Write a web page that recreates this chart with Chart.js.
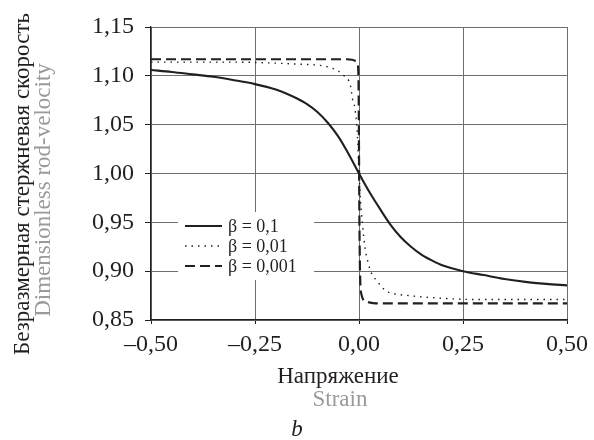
<!DOCTYPE html>
<html>
<head>
<meta charset="utf-8">
<script src="https://cdn.jsdelivr.net/npm/chart.js@4/dist/chart.umd.min.js"></script>
<style>
  html, body { margin: 0; padding: 0; background: #fff; }
  #wrap { width: 594px; height: 440px; }
</style>
</head>
<body>
<div id="wrap"><canvas id="grafico" width="594" height="440"></canvas></div>
<script>
// β = 0,1
const strainA = [-0.5, -0.45, -0.4, -0.35, -0.3, -0.25, -0.2, -0.175, -0.15, -0.125, -0.1, -0.075, -0.05, -0.025, 0,
                 0.025, 0.05, 0.075, 0.1, 0.125, 0.15, 0.175, 0.2, 0.25, 0.3, 0.35, 0.4, 0.45, 0.5];
const velA = [1.106, 1.104, 1.1015, 1.099, 1.0955, 1.0915, 1.086, 1.082, 1.077, 1.071, 1.063, 1.052, 1.038, 1.020, 1.0,
              0.981, 0.964, 0.948, 0.935, 0.925, 0.917, 0.911, 0.906, 0.900, 0.896, 0.892, 0.889, 0.887, 0.8855];

// β = 0,01
const strainB = [-0.5, -0.3, -0.2, -0.15, -0.1, -0.084, -0.06, -0.036, -0.02, -0.016, -0.01, -0.004, 0,
                 0.004, 0.008, 0.014, 0.02, 0.028, 0.043, 0.064, 0.084, 0.12, 0.173, 0.28, 0.5];
const velB = [1.114, 1.114, 1.113, 1.112, 1.111, 1.110, 1.107, 1.100, 1.089, 1.077, 1.067, 1.04, 1.0,
              0.97, 0.95, 0.925, 0.912, 0.900, 0.890, 0.880, 0.877, 0.875, 0.873, 0.871, 0.871];

// β = 0,001
const strainC = [-0.5, -0.1, -0.03, -0.016, -0.008, -0.003, -0.001, 0.001, 0.003, 0.006, 0.01, 0.016, 0.024, 0.04, 0.1, 0.5];
const velC = [1.117, 1.117, 1.117, 1.1165, 1.115, 1.111, 1.09, 0.95, 0.89, 0.876, 0.871, 0.869, 0.868, 0.867, 0.867, 0.867];

const betaLabels = ['β = 0,1', 'β = 0,01', 'β = 0,001'];
const xTicks = [-0.5, -0.25, 0, 0.25, 0.5];
const yTicks = [0.85, 0.9, 0.95, 1.0, 1.05, 1.1, 1.15];

const fontSerif = '"Liberation Serif", "Times New Roman", serif';
const ink = '#231f20';
const grey = '#9a9a9a';

const toPoints = (xs, ys) => xs.map((x, i) => ({ x: x, y: ys[i] }));
const fmt = (v) => {
    const s = Math.abs(v).toFixed(2).replace('.', ',');
    return v < -1e-9 ? '\u2013' + s : s;
};

// подписи осей и легенда рисуются вручную
const decorPlugin = {
    id: 'decor',
    afterDraw(chart) {
        const ctx = chart.ctx;
        ctx.save();

        // легенда внутри поля графика
        const lx = 178, ly = 212, lw = 136, lh = 68;
        ctx.fillStyle = '#fff';
        ctx.fillRect(lx, ly, lw, lh);
        const rows = [226, 246, 266];
        chart.data.datasets.forEach((ds, i) => {
            ctx.strokeStyle = ds.borderColor;
            ctx.lineWidth = ds.borderWidth;
            ctx.setLineDash(ds.borderDash || []);
            ctx.beginPath();
            ctx.moveTo(185, rows[i]);
            ctx.lineTo(222, rows[i]);
            ctx.stroke();
            ctx.setLineDash([]);
            ctx.fillStyle = ink;
            ctx.font = '18px ' + fontSerif;
            ctx.textAlign = 'left';
            ctx.textBaseline = 'middle';
            ctx.fillText(ds.label, 228, rows[i] + 1);
        });

        // подпись оси X
        ctx.textAlign = 'center';
        ctx.textBaseline = 'middle';
        ctx.font = '23px ' + fontSerif;
        ctx.fillStyle = ink;
        ctx.fillText('Напряжение', 338, 377);
        ctx.fillStyle = grey;
        ctx.fillText('Strain', 340, 400);
        ctx.fillStyle = ink;
        ctx.font = 'italic 23px ' + fontSerif;
        ctx.fillText('b', 297, 430);

        // подпись оси Y
        ctx.translate(0, 184);
        ctx.rotate(-Math.PI / 2);
        ctx.font = '23px ' + fontSerif;
        ctx.fillStyle = ink;
        ctx.fillText('Безразмерная стержневая скорость', 0, 23);
        ctx.fillStyle = grey;
        ctx.fillText('Dimensionless rod-velocity', -6, 44);
        ctx.restore();
    }
};

new Chart(document.getElementById('grafico'), {
    type: 'line',
    data: {
        datasets: [{
            label: betaLabels[0],
            data: toPoints(strainA, velA),
            borderColor: ink,
            borderWidth: 2.1,
            pointRadius: 0,
            cubicInterpolationMode: 'monotone',
            fill: false
        }, {
            label: betaLabels[1],
            data: toPoints(strainB, velB),
            borderColor: ink,
            borderWidth: 1.4,
            borderDash: [1.5, 5],
            pointRadius: 0,
            cubicInterpolationMode: 'monotone',
            fill: false
        }, {
            label: betaLabels[2],
            data: toPoints(strainC, velC),
            borderColor: ink,
            borderWidth: 2.2,
            borderDash: [10, 5],
            pointRadius: 0,
            cubicInterpolationMode: 'monotone',
            fill: false
        }]
    },
    options: {
        responsive: false,
        animation: false,
        layout: { padding: { left: 55, right: 26, top: 27, bottom: 70 } },
        plugins: {
            legend: { display: false },
            tooltip: { enabled: false }
        },
        scales: {
            x: {
                type: 'linear',
                min: xTicks[0],
                max: xTicks[xTicks.length - 1],
                afterBuildTicks: (s) => { s.ticks = xTicks.map(v => ({ value: v })); },
                afterFit: (s) => { s.height = 50; },
                grid: { color: '#6e6e6e', tickColor: ink, tickLength: 4, lineWidth: 1 },
                border: { color: ink, width: 1.3 },
                ticks: {
                    color: ink,
                    font: { family: fontSerif, size: 24 },
                    padding: 6,
                    maxRotation: 0,
                    callback: (v) => fmt(v)
                }
            },
            y: {
                min: yTicks[0],
                max: yTicks[yTicks.length - 1],
                afterBuildTicks: (s) => { s.ticks = yTicks.map(v => ({ value: v })); },
                afterFit: (s) => { s.width = 96; },
                grid: { color: '#6e6e6e', tickColor: ink, tickLength: 6, lineWidth: 1 },
                border: { color: ink, width: 1.3 },
                ticks: {
                    color: ink,
                    font: { family: fontSerif, size: 24 },
                    padding: 11,
                    callback: (v) => fmt(v)
                }
            }
        }
    },
    plugins: [decorPlugin]
});
</script>
</body>
</html>
